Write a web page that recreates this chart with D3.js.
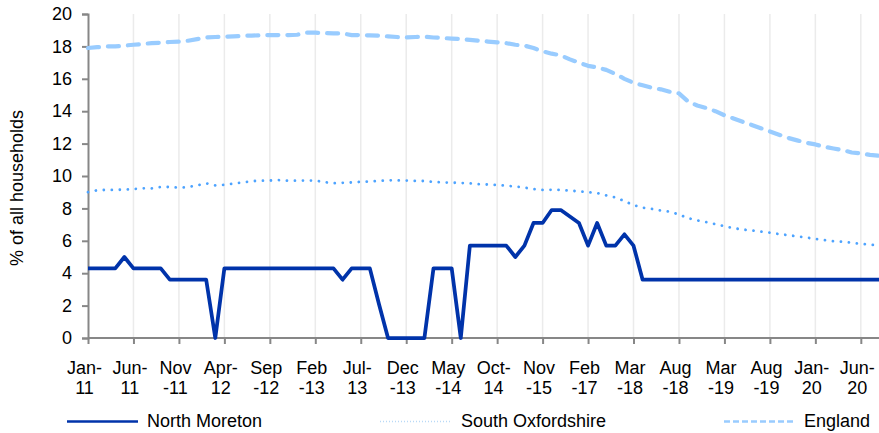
<!DOCTYPE html>
<html>
<head>
<meta charset="utf-8">
<script src="https://cdn.jsdelivr.net/npm/d3@7"></script>
<style>
  body { margin: 0; background: #fff; }
  svg text { font-family: "Liberation Sans", Arial, sans-serif; fill: #000; }
</style>
</head>
<body>
<svg></svg>
<script>
var width = 879, height = 433;
var padding = { top: 14, right: 0, bottom: 95, left: 88 };
var fontSize = 18;

// tick labels, one every 5th data point
var tickLabels = [
  ["Jan-", "11"], ["Jun-", "11"], ["Nov", "-11"], ["Apr-", "12"], ["Sep", "-12"],
  ["Feb", "-13"], ["Jul-", "13"], ["Dec", "-13"], ["May", "-14"], ["Oct-", "14"],
  ["Nov", "-15"], ["Feb", "-17"], ["Mar", "-18"], ["Aug", "-18"], ["Mar", "-19"],
  ["Aug", "-19"], ["Jan-", "20"], ["Jun-", "20"]
];
var yTicks = [0, 2, 4, 6, 8, 10, 12, 14, 16, 18, 20];

var northMoreton = [
  4.3, 4.3, 4.3, 4.3, 5.0, 4.3, 4.3, 4.3, 4.3, 3.6,
  3.6, 3.6, 3.6, 3.6, 0, 4.3, 4.3, 4.3, 4.3, 4.3,
  4.3, 4.3, 4.3, 4.3, 4.3, 4.3, 4.3, 4.3, 3.6, 4.3,
  4.3, 4.3, 2.1, 0, 0, 0, 0, 0, 4.3, 4.3,
  4.3, 0, 5.7, 5.7, 5.7, 5.7, 5.7, 5.0, 5.7, 7.1,
  7.1, 7.9, 7.9, 7.5, 7.1, 5.7, 7.1, 5.7, 5.7, 6.4,
  5.7, 3.6, 3.6, 3.6, 3.6, 3.6, 3.6, 3.6, 3.6, 3.6,
  3.6, 3.6, 3.6, 3.6, 3.6, 3.6, 3.6, 3.6, 3.6, 3.6,
  3.6, 3.6, 3.6, 3.6, 3.6, 3.6, 3.6, 3.6
];

var southOxfordshire = [
  9.0, 9.12, 9.14, 9.14, 9.16, 9.2, 9.24, 9.24, 9.32, 9.32,
  9.28, 9.32, 9.42, 9.55, 9.42, 9.46, 9.53, 9.6, 9.68, 9.71,
  9.72, 9.75, 9.71, 9.71, 9.72, 9.72, 9.62, 9.55, 9.58, 9.6,
  9.64, 9.66, 9.7, 9.73, 9.73, 9.72, 9.7, 9.69, 9.64, 9.6,
  9.59, 9.57, 9.55, 9.5, 9.47, 9.44, 9.4, 9.36, 9.28, 9.2,
  9.14, 9.15, 9.14, 9.1, 9.05, 9.0, 8.95, 8.8, 8.68, 8.45,
  8.2, 8.05, 7.97, 7.87, 7.8, 7.62, 7.4, 7.26, 7.15, 7.03,
  6.9, 6.78, 6.7, 6.64, 6.57, 6.5, 6.42, 6.35, 6.28, 6.2,
  6.12, 6.04, 5.98, 5.94, 5.88, 5.82, 5.76, 5.73
];

var england = [
  17.9, 17.95, 18.0, 18.0, 18.05, 18.1, 18.15, 18.2, 18.23, 18.27,
  18.3, 18.35, 18.45, 18.55, 18.58, 18.6, 18.62, 18.65, 18.67, 18.68,
  18.7, 18.7, 18.7, 18.72, 18.85, 18.85, 18.82, 18.8, 18.8, 18.7,
  18.7, 18.68, 18.66, 18.62, 18.58, 18.55, 18.58, 18.6, 18.55, 18.52,
  18.48, 18.45, 18.4, 18.35, 18.3, 18.25, 18.2, 18.1, 18.05, 17.9,
  17.7, 17.55, 17.45, 17.2, 17.0, 16.8, 16.7, 16.55, 16.3, 16.0,
  15.75, 15.6, 15.45, 15.35, 15.2, 15.1, 14.6, 14.35, 14.2, 14.0,
  13.75, 13.55, 13.35, 13.15, 12.95, 12.75, 12.55, 12.35, 12.2, 12.05,
  11.95, 11.8, 11.7, 11.6, 11.45, 11.4, 11.3, 11.25
];

var series = [
  { name: "North Moreton", values: northMoreton, color: "#0033AA", width: 3.75, dash: null, cap: "butt" },
  { name: "South Oxfordshire", values: southOxfordshire, color: "#4DA3FF", width: 2.8, dash: "0.01 8", cap: "round" },
  { name: "England", values: england, color: "#99CCFF", width: 4.2, dash: "11 9", cap: "round" }
];

var svg = d3.select("svg")
  .attr("width", width)
  .attr("height", height);

var xScale = d3.scaleLinear()
  .domain([0, northMoreton.length - 1])
  .range([padding.left, width - padding.right]);

var yScale = d3.scaleLinear()
  .domain([0, 20])
  .range([height - padding.bottom, padding.top]);

var tickIdx = tickLabels.map((d, i) => i * 5);

// vertical gridlines
svg.append("g")
  .selectAll("line")
  .data(tickIdx.slice(1))
  .enter()
  .append("line")
    .attr("x1", d => xScale(d))
    .attr("x2", d => xScale(d))
    .attr("y1", yScale(20))
    .attr("y2", yScale(0))
    .attr("stroke", "#ebebeb")
    .attr("stroke-width", 1.5);

// y axis
var yAxis = svg.append("g")
  .attr("transform", "translate(" + padding.left + ", 0)")
  .call(d3.axisLeft(yScale).tickValues(yTicks).tickSize(6).tickPadding(10));

// x axis
var xAxis = svg.append("g")
  .attr("transform", "translate(0, " + yScale(0) + ")")
  .call(d3.axisBottom(xScale).tickValues(tickIdx).tickSize(6).tickFormat(""));

[yAxis, xAxis].forEach(function(ax) {
  ax.select(".domain").attr("stroke", "#878787").attr("stroke-width", 2);
  ax.selectAll(".tick line").attr("stroke", "#878787").attr("stroke-width", 2);
});
yAxis.selectAll(".tick text")
  .attr("font-size", fontSize)
  .attr("font-family", "Liberation Sans, Arial, sans-serif")
  .attr("fill", "#000");
xAxis.select(".domain").attr("d", "M" + xScale(0) + ",0H" + (width - padding.right));

// x tick labels in two lines
var xLab = svg.append("g")
  .selectAll("text")
  .data(tickLabels)
  .enter()
  .append("text")
    .attr("text-anchor", "middle")
    .attr("font-size", fontSize)
    .attr("x", (d, i) => xScale(i * 5) - 3.5)
    .attr("y", 374);
xLab.append("tspan").text(d => d[0]);
xLab.append("tspan")
  .attr("x", (d, i) => xScale(i * 5) - 3.5)
  .attr("dy", 20)
  .text(d => d[1]);

// y axis title
svg.append("text")
  .attr("transform", "translate(23, 188) rotate(-90)")
  .attr("text-anchor", "middle")
  .attr("font-size", fontSize)
  .text("% of all households");

// lines, England first so North Moreton sits on top
var line = d3.line()
  .x((d, i) => xScale(i))
  .y(d => yScale(d));

svg.append("g")
  .selectAll("path")
  .data(series.slice().reverse())
  .enter()
  .append("path")
    .attr("d", d => line(d.values))
    .attr("fill", "none")
    .attr("stroke", d => d.color)
    .attr("stroke-width", d => d.width)
    .attr("stroke-dasharray", d => d.dash)
    .attr("stroke-linecap", d => d.cap)
    .attr("stroke-linejoin", "round");

// legend
var legend = [
  { x: 67, textX: 147, color: "#0033AA", width: 2.7, dash: null },
  { x: 380, textX: 461, color: "#B9D9F7", width: 1.3, dash: "1 2" },
  { x: 724, textX: 804, color: "#99CCFF", width: 2.7, dash: "6 3" }
];

var lg = svg.append("g")
  .selectAll("g")
  .data(legend)
  .enter()
  .append("g");

lg.append("line")
  .attr("x1", d => d.x)
  .attr("x2", d => d.x + 71)
  .attr("y1", 421.5)
  .attr("y2", 421.5)
  .attr("stroke", d => d.color)
  .attr("stroke-width", d => d.width)
  .attr("stroke-dasharray", d => d.dash);

lg.append("text")
  .attr("x", d => d.textX)
  .attr("y", 427)
  .attr("font-size", fontSize)
  .text((d, i) => series[i].name);
</script>
</body>
</html>
